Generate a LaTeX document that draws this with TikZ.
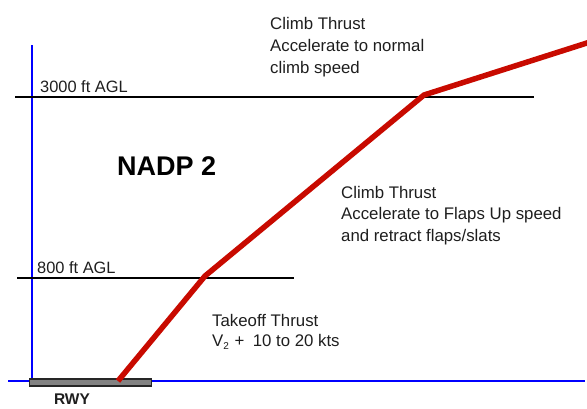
\documentclass[tikz,border=0pt]{standalone}
\usepackage{fontspec}
\setmainfont{Liberation Sans}
\definecolor{pathred}{RGB}{200,10,0}
\definecolor{inktext}{RGB}{30,30,30}
\definecolor{rwygray}{RGB}{130,130,130}
\begin{document}
\begin{tikzpicture}[x=1pt,y=-1pt,
  axis/.style={blue,line width=1.4pt},
  level/.style={black,line width=1.3pt},
  flight/.style={pathred,line width=5.5pt,line join=miter},
  note/.style={anchor=base west,inner sep=0pt,text=inktext,font=\fontsize{16.8}{20}\selectfont},
  label/.style={anchor=base west,inner sep=0pt,text=inktext,font=\fontsize{16.4}{19}\selectfont}]
\useasboundingbox (0,0) rectangle (587,408);

% ground and vertical axis
\coordinate (g0) at (8,381);
\coordinate (g1) at (585,381);
\coordinate (v0) at (32,45);
\coordinate (v1) at (32,383);
\draw[axis] (g0) -- (g1);
\draw[axis] (v0) -- (v1);

% altitude reference levels
\coordinate (h3a) at (15,97);
\coordinate (h3b) at (534,97);
\coordinate (h8a) at (17,278);
\coordinate (h8b) at (294,278);
\draw[level] (h3a) -- (h3b);
\draw[level] (h8a) -- (h8b);
\node[label] (l3000) at (40,92) {3000 ft AGL};
\node[label] (l800) at (37,273) {800 ft AGL};

% runway
\node[draw=black!85,fill=rwygray,line width=1.2pt,minimum width=122pt,minimum height=7pt,inner sep=0pt,anchor=west] (rwy) at (29,382.5) {};
\node[inner sep=0pt,text=inktext,font=\bfseries\fontsize{15.5}{19}\selectfont] (rwylabel) at (72,399.5) {RWY};

% flight profile
\coordinate (p0) at (118,381);
\coordinate (p1) at (205,276);
\coordinate (p2) at (424,95);
\coordinate (p3) at (590,42);
\draw[flight] (p0) -- (p1) -- (p2) -- (p3);

% title
\node[anchor=base west,inner sep=0pt,text=black,font=\bfseries\fontsize{27}{32}\selectfont] (title) at (117,175) {NADP 2};

% phase notes
\node[note] (n1a) at (212,326) {Takeoff Thrust};
\node[note] (n1b) at (212,346) {V\raisebox{-3.5pt}{\fontsize{10}{12}\selectfont 2}\,\,+\,\,\,10 to 20 kts};

\node[note] (n2a) at (341,198) {Climb Thrust};
\node[note] (n2b) at (341,219) {Accelerate to Flaps Up speed};
\node[note] (n2c) at (341,241) {and retract flaps/slats};

\node[note] (n3a) at (270,29) {Climb Thrust};
\node[note] (n3b) at (270,51) {Accelerate to normal};
\node[note] (n3c) at (270,73) {climb speed};
\end{tikzpicture}
\end{document}
